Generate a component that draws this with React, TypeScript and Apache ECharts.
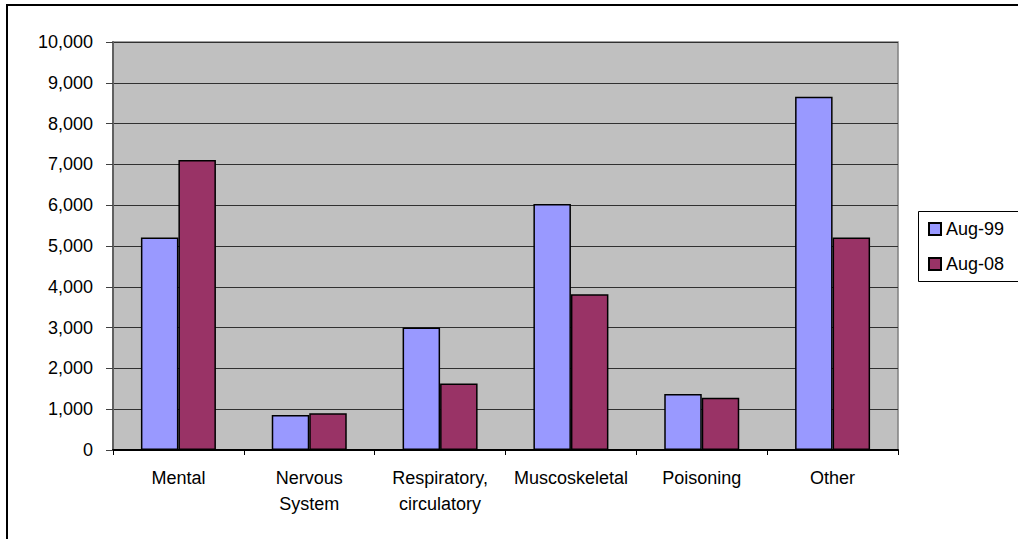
import React, { useEffect, useRef } from "react";
import * as echarts from "echarts";

const categories = ["Mental", "Nervous\nSystem", "Respiratory,\ncirculatory", "Muscoskeletal", "Poisoning", "Other"];
const aug99 = [5210, 860, 3000, 6030, 1370, 8660];
const aug08 = [7110, 900, 1630, 3820, 1280, 5210];
const seriesNames = ["Aug-99", "Aug-08"];
const yTicks = { min: 0, max: 10000, interval: 1000 };

const FONT = "'Liberation Sans', Arial, sans-serif";

export default function App() {
  const ref = useRef<HTMLDivElement>(null);
  useEffect(() => {
    if (!ref.current) return;
    const chart = echarts.init(ref.current, null, { renderer: "svg" });
    chart.setOption({
      animation: false,
      backgroundColor: "#ffffff",
      textStyle: { fontFamily: FONT },
      grid: {
        left: 113,
        top: 42,
        width: 785,
        height: 408,
        show: true,
        backgroundColor: "#C0C0C0",
        borderColor: "#808080",
        borderWidth: 1.5,
        containLabel: false,
      },
      legend: {
        orient: "vertical",
        left: 918,
        top: 211,
        data: seriesNames,
        icon: "rect",
        itemWidth: 12,
        itemHeight: 12,
        itemGap: 13,
        padding: [7, 10, 6, 10],
        borderWidth: 0,
        textStyle: { fontFamily: FONT, fontSize: 18, color: "#000", lineHeight: 22 },
      },
      xAxis: {
        type: "category",
        data: categories,
        axisLine: { show: true, lineStyle: { color: "#000", width: 2 } },
        axisTick: { show: true, length: 5, lineStyle: { color: "#000" }, alignWithLabel: false },
        axisLabel: {
          interval: 0,
          margin: 15,
          fontFamily: FONT,
          fontSize: 18,
          color: "#000",
          lineHeight: 26,
        },
        splitLine: { show: false },
      },
      yAxis: {
        type: "value",
        min: yTicks.min,
        max: yTicks.max,
        interval: yTicks.interval,
        axisLine: { show: true, lineStyle: { color: "#606060", width: 2 } },
        axisTick: { show: true, length: 7, lineStyle: { color: "#404040" } },
        axisLabel: {
          margin: 20,
          fontFamily: FONT,
          fontSize: 18,
          color: "#000",
          formatter: (v: number) => v.toLocaleString("en-US"),
        },
        splitLine: { show: true, lineStyle: { color: "#303030", width: 1 } },
      },
      series: [
        {
          name: seriesNames[0],
          type: "bar",
          data: aug99,
          barWidth: 37.5,
          barGap: "0%",
          itemStyle: { color: "#9999FF", borderColor: "#000", borderWidth: 1.5 },
        },
        {
          name: seriesNames[1],
          type: "bar",
          data: aug08,
          barWidth: 37.5,
          barGap: "0%",
          itemStyle: { color: "#993366", borderColor: "#000", borderWidth: 1.5 },
        },
      ],
      graphic: [
        {
          type: "rect",
          shape: { x: 918.5, y: 211.5, width: 200, height: 70 },
          style: { fill: "none", stroke: "#000", lineWidth: 1 },
          silent: true,
          z: 100,
        },
        {
          type: "rect",
          shape: { x: 7, y: 5, width: 1100, height: 600 },
          style: { fill: "none", stroke: "#000", lineWidth: 2 },
          silent: true,
          z: 100,
        },
      ],
    });
    return () => chart.dispose();
  }, []);
  return (
    <div
      ref={ref}
      style={{ position: "absolute", left: 0, top: 0, width: 1018, height: 539 }}
    />
  );
}
